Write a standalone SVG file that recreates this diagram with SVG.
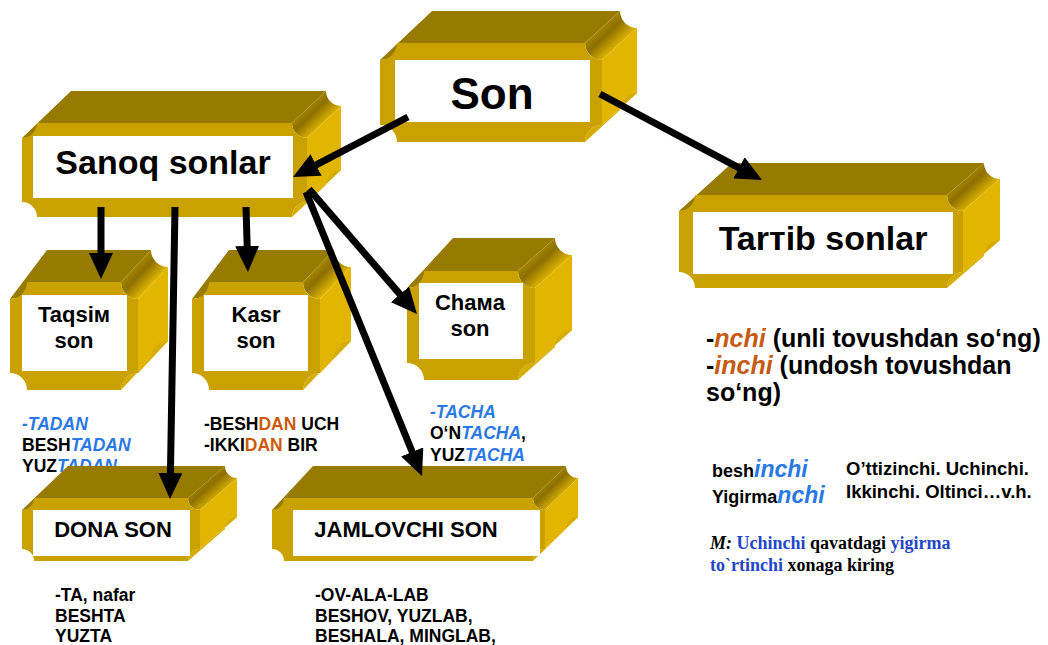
<svg xmlns="http://www.w3.org/2000/svg" width="1048" height="645" viewBox="0 0 1048 645">
<defs>
<style>
.top{fill:#977a00}
.front{fill:#c9a100}
.side{fill:#e2b600}
.ctr{fill:url(#gTR)}
.cbr{fill:#d6ac00}
.inner{fill:#ffffff}
.lbl{font-family:"Liberation Sans",Arial,sans-serif;font-weight:bold;fill:#000;text-anchor:middle}
.ann{font-family:"Liberation Sans",Arial,sans-serif;font-weight:bold;fill:#000;font-size:17.5px}
.blue{fill:#2a78e4;font-style:italic}
.org{fill:#cc5a0a}
.orgi{fill:#c55a11;font-style:italic}
.ser{font-family:"Liberation Serif","Times New Roman",serif;font-weight:bold;fill:#000;font-size:18px}
.sblue{fill:#2346c8}
.conn line{stroke:#000;stroke-width:7;marker-end:url(#ah)}
</style>
<linearGradient id="gTR" x1="0" y1="0" x2="1" y2="1">
<stop offset="0.3" stop-color="#a88800"/>
<stop offset="0.45" stop-color="#8c6f00"/>
<stop offset="0.72" stop-color="#f0c400"/>
</linearGradient>
<marker id="ah" markerUnits="userSpaceOnUse" viewBox="0 0 26 24" refX="8" refY="12" markerWidth="26" markerHeight="24" orient="auto">
<path d="M0,0 L26,12 L0,24 Z" fill="#000"/>
</marker>
</defs>
<rect width="1048" height="645" fill="#ffffff"/>

<g id="node-son">
<polygon class="top" points="380,60 432,11 620,11 585,43"/>
<path class="ctr" d="M585,43 A17 17 0 0 0 602,60 L637,28 A17 17 0 0 1 620,11 Z"/>
<polygon class="side" points="602,60 637,28 637,93 602,125"/>
<path class="cbr" d="M602,125 A17 17 0 0 0 585,142 L620,110 A17 17 0 0 1 637,93 Z"/>
<path class="front" d="M397,43 H585 A17 17 0 0 0 602,60 V125 A17 17 0 0 0 585,142 H397 A17 17 0 0 0 380,125 V60 A17 17 0 0 0 397,43 Z"/>
<rect class="inner" x="395" y="60" width="195" height="62"/>
<text class="lbl" x="492" y="109" font-size="44">Son</text>
</g>

<g id="node-sanoq">
<polygon class="top" points="22,138 71,91 326,91 292,123"/>
<path class="ctr" d="M292,123 A15 15 0 0 0 307,138 L341,106 A15 15 0 0 1 326,91 Z"/>
<polygon class="side" points="307,138 341,106 341,170 307,202"/>
<path class="cbr" d="M307,202 A15 15 0 0 0 292,217 L326,185 A15 15 0 0 1 341,170 Z"/>
<path class="front" d="M37,123 H292 A15 15 0 0 0 307,138 V202 A15 15 0 0 0 292,217 H37 A15 15 0 0 0 22,202 V138 A15 15 0 0 0 37,123 Z"/>
<rect class="inner" x="33" y="136" width="260" height="62"/>
<text class="lbl" x="163" y="174" font-size="34">Sanoq sonlar</text>
</g>

<g id="node-tartib">
<polygon class="top" points="679,211 732,163 984,163 947,195"/>
<path class="ctr" d="M947,195 A16 16 0 0 0 963,211 L1000,179 A16 16 0 0 1 984,163 Z"/>
<polygon class="side" points="963,211 1000,179 1000,240 963,272"/>
<path class="cbr" d="M963,272 A16 16 0 0 0 947,288 L984,256 A16 16 0 0 1 1000,240 Z"/>
<path class="front" d="M695,195 H947 A16 16 0 0 0 963,211 V272 A16 16 0 0 0 947,288 H695 A16 16 0 0 0 679,272 V211 A16 16 0 0 0 695,195 Z"/>
<rect class="inner" x="693" y="212" width="260" height="62"/>
<text class="lbl" x="823" y="250" font-size="34">Tarтib sonlar</text>
</g>

<g id="node-taqsim">
<polygon class="top" points="10,299 47,250 151,250 121,282"/>
<path class="ctr" d="M121,282 A17 17 0 0 0 138,299 L168,267 A17 17 0 0 1 151,250 Z"/>
<polygon class="side" points="138,299 168,267 168,341 138,373"/>
<path class="cbr" d="M138,373 A17 17 0 0 0 121,390 L151,358 A17 17 0 0 1 168,341 Z"/>
<path class="front" d="M27,282 H121 A17 17 0 0 0 138,299 V373 A17 17 0 0 0 121,390 H27 A17 17 0 0 0 10,373 V299 A17 17 0 0 0 27,282 Z"/>
<rect class="inner" x="22" y="295" width="105" height="76"/>
<text class="lbl" x="74" y="322" font-size="22">Taqsiм</text>
<text class="lbl" x="74" y="348" font-size="22">son</text>
</g>

<g id="node-kasr">
<polygon class="top" points="192,299 229,250 334,250 303,282"/>
<path class="ctr" d="M303,282 A17 17 0 0 0 320,299 L351,267 A17 17 0 0 1 334,250 Z"/>
<polygon class="side" points="320,299 351,267 351,341 320,373"/>
<path class="cbr" d="M320,373 A17 17 0 0 0 303,390 L334,358 A17 17 0 0 1 351,341 Z"/>
<path class="front" d="M209,282 H303 A17 17 0 0 0 320,299 V373 A17 17 0 0 0 303,390 H209 A17 17 0 0 0 192,373 V299 A17 17 0 0 0 209,282 Z"/>
<rect class="inner" x="204" y="295" width="104" height="76"/>
<text class="lbl" x="256" y="322" font-size="22">Kasr</text>
<text class="lbl" x="256" y="348" font-size="22">son</text>
</g>

<g id="node-chama">
<polygon class="top" points="407,288 453,238 555,238 518,271"/>
<path class="ctr" d="M518,271 A17 17 0 0 0 535,288 L572,255 A17 17 0 0 1 555,238 Z"/>
<polygon class="side" points="535,288 572,255 572,330 535,363"/>
<path class="cbr" d="M535,363 A17 17 0 0 0 518,380 L555,347 A17 17 0 0 1 572,330 Z"/>
<path class="front" d="M424,271 H518 A17 17 0 0 0 535,288 V363 A17 17 0 0 0 518,380 H424 A17 17 0 0 0 407,363 V288 A17 17 0 0 0 424,271 Z"/>
<rect class="inner" x="419" y="283" width="104" height="76"/>
<text class="lbl" x="470" y="310" font-size="22">Chaмa</text>
<text class="lbl" x="470" y="336" font-size="22">son</text>
</g>

<g id="notes-sanoq">
<text class="ann" x="22" y="430"><tspan class="blue">-TADAN</tspan></text>
<text class="ann" x="22" y="451">BESH<tspan class="blue">TADAN</tspan></text>
<text class="ann" x="22" y="472">YUZ<tspan class="blue">TADAN</tspan></text>
<text class="ann" x="204" y="430">-BESH<tspan class="org">DAN</tspan> UCH</text>
<text class="ann" x="204" y="451">-IKKI<tspan class="org">DAN</tspan> BIR</text>
<text class="ann" x="430" y="418"><tspan class="blue">-TACHA</tspan></text>
<text class="ann" x="430" y="439">O‘N<tspan class="blue">TACHA</tspan>,</text>
<text class="ann" x="430" y="461">YUZ<tspan class="blue">TACHA</tspan></text>
<text class="ann" x="55" y="601">-TA, nafar</text>
<text class="ann" x="55" y="622">BESHTA</text>
<text class="ann" x="55" y="642">YUZTA</text>
<text class="ann" x="315" y="601">-OV-ALA-LAB</text>
<text class="ann" x="315" y="622">BESHOV, YUZLAB,</text>
<text class="ann" x="315" y="642">BESHALA, MINGLAB,</text>
</g>

<g id="notes-tartib">
<text class="ann" x="706" y="347" style="font-size:25px">-<tspan class="orgi">nchi</tspan> (unli tovushdan so‘ng)</text>
<text class="ann" x="706" y="374" style="font-size:25px">-<tspan class="orgi">inchi</tspan> (undosh tovushdan</text>
<text class="ann" x="706" y="401" style="font-size:25px">so‘ng)</text>
<text class="ann" x="712" y="477" style="font-size:18px">besh<tspan class="blue" style="font-size:23px">inchi</tspan></text>
<text class="ann" x="712" y="503" style="font-size:18px">Yigirma<tspan class="blue" style="font-size:23px">nchi</tspan></text>
<text class="ann" x="846" y="475" style="font-size:18.5px">O’ttizinchi. Uchinchi.</text>
<text class="ann" x="846" y="498" style="font-size:18.5px">Ikkinchi. Oltinci…v.h.</text>
<text class="ser" x="710" y="549"><tspan font-style="italic">M:</tspan> <tspan class="sblue">Uchinchi</tspan> qavatdagi <tspan class="sblue">yigirma</tspan></text>
<text class="ser" x="710" y="571"><tspan class="sblue">to`rtinchi</tspan> xonaga kiring</text>
</g>

<g id="node-dona">
<polygon class="top" points="22,510 68,466 225,466 188,498"/>
<path class="ctr" d="M188,498 A12 12 0 0 0 200,510 L237,478 A12 12 0 0 1 225,466 Z"/>
<polygon class="side" points="200,510 237,478 237,517 200,549"/>
<path class="cbr" d="M200,549 A12 12 0 0 0 188,561 L225,529 A12 12 0 0 1 237,517 Z"/>
<path class="front" d="M34,498 H188 A12 12 0 0 0 200,510 V549 A12 12 0 0 0 188,561 H34 A12 12 0 0 0 22,549 V510 A12 12 0 0 0 34,498 Z"/>
<rect class="inner" x="33" y="510" width="157" height="46"/>
<text class="lbl" x="113" y="537" font-size="22">DONA SON</text>
</g>

<g id="node-jamlovchi">
<polygon class="top" points="272,510 313,466 566,466 533,498"/>
<path class="ctr" d="M533,498 A12 12 0 0 0 545,510 L578,478 A12 12 0 0 1 566,466 Z"/>
<polygon class="side" points="545,510 578,478 578,517 545,549"/>
<path class="cbr" d="M545,549 A12 12 0 0 0 533,561 L566,529 A12 12 0 0 1 578,517 Z"/>
<path class="front" d="M284,498 H533 A12 12 0 0 0 545,510 V549 A12 12 0 0 0 533,561 H284 A12 12 0 0 0 272,549 V510 A12 12 0 0 0 284,498 Z"/>
<rect class="inner" x="293" y="510" width="247" height="46"/>
<text class="lbl" x="406" y="537" font-size="22">JAMLOVCHI SON</text>
</g>

<g id="connectors" class="conn">
<line x1="408" y1="117" x2="309" y2="168.7"/>
<line x1="600" y1="94" x2="746.1" y2="171.6"/>
<line x1="101" y1="207" x2="101" y2="261"/>
<line x1="246" y1="207" x2="247.4" y2="254"/>
<line x1="175" y1="207" x2="170.3" y2="481"/>
<line x1="309" y1="189" x2="405.2" y2="300.4"/>
<line x1="306" y1="192" x2="415.2" y2="459.3"/>
</g>
</svg>
